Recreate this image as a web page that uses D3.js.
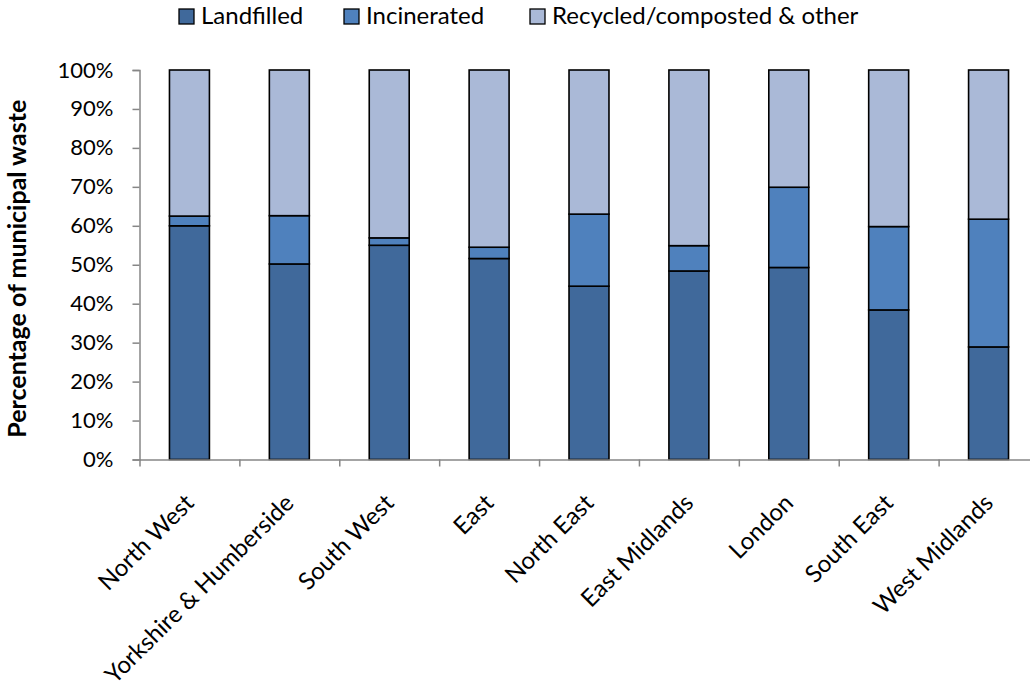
<!DOCTYPE html>
<html>
<head>
<meta charset="utf-8">
<script src="https://cdn.jsdelivr.net/npm/d3@7"></script>
<style>
  html, body { margin: 0; padding: 0; background: #fff; }
  svg { display: block; font-family: Lato, "Open Sans", sans-serif; }
</style>
</head>
<body>
<svg id="chart" width="1030" height="687"></svg>
<script>
const categories = ["North West", "Yorkshire & Humberside", "South West", "East", "North East", "East Midlands", "London", "South East", "West Midlands"];
const seriesNames = ["Landfilled", "Incinerated", "Recycled/composted & other"];
const landfilled = [60.0, 50.2, 55.0, 51.6, 44.5, 48.4, 49.3, 38.4, 28.9];
const incinerated = [2.5, 12.4, 1.9, 2.9, 18.5, 6.5, 20.6, 21.4, 32.8];
const recycled = [37.5, 37.4, 43.1, 45.5, 37.0, 45.1, 30.1, 40.2, 38.3];
const yTicks = [0, 10, 20, 30, 40, 50, 60, 70, 80, 90, 100];
const colors = ["#40699B", "#4F81BD", "#AAB9D7"];

const rows = categories.map((c, i) => ({
  cat: c,
  "Landfilled": landfilled[i],
  "Incinerated": incinerated[i],
  "Recycled/composted & other": recycled[i]
}));

const svg = d3.select("#chart");
const plotLeft = 139.5, plotRight = 1038.5, plotTop = 70, plotBottom = 459.5;

const x = d3.scaleBand().domain(categories).range([plotLeft, plotRight]).paddingInner(0.6).paddingOuter(0.3);
const xb = d3.scaleLinear().domain([0, categories.length]).range([plotLeft, plotRight]);
const y = d3.scaleLinear().domain([0, 100]).range([plotBottom, plotTop]);
const color = d3.scaleOrdinal().domain(seriesNames).range(colors);

const stacked = d3.stack().keys(seriesNames)(rows);

// bars
svg.append("g").selectAll("g").data(stacked).join("g")
  .attr("fill", d => color(d.key))
  .selectAll("rect").data(d => d).join("rect")
  .attr("x", d => x(d.data.cat))
  .attr("width", x.bandwidth())
  .attr("y", d => y(d[1]))
  .attr("height", d => y(d[0]) - y(d[1]))
  .attr("stroke", "#000")
  .attr("stroke-width", 1.6);

// y axis
const yAxis = svg.append("g").attr("transform", `translate(${plotLeft},0)`)
  .call(d3.axisLeft(y).tickValues(yTicks).tickFormat(d => d + "%").tickSize(7).tickPadding(19));
yAxis.select(".domain").attr("stroke", "#868686").attr("stroke-width", 1.5);
yAxis.selectAll(".tick line").attr("stroke", "#868686").attr("stroke-width", 1.5);
yAxis.selectAll(".tick text").attr("font-size", 22).attr("fill", "#000").attr("font-family", "Lato, sans-serif");

// x axis
const xAxis = svg.append("g").attr("transform", `translate(0,${plotBottom})`)
  .call(d3.axisBottom(xb).tickValues(d3.range(0, categories.length + 1)).tickFormat("").tickSize(7).tickSizeOuter(0));
xAxis.select(".domain").attr("stroke", "#868686").attr("stroke-width", 1.5);
xAxis.selectAll(".tick line").attr("stroke", "#868686").attr("stroke-width", 1.5);

// category labels
svg.append("g").selectAll("text").data(categories).join("text")
  .attr("transform", d => `translate(${x(d) + x.bandwidth() / 2 + 6},${plotBottom + 45}) rotate(-45)`)
  .attr("text-anchor", "end")
  .attr("font-size", 24)
  .attr("fill", "#000")
  .text(d => d);

// y title
svg.append("text")
  .attr("transform", `translate(26,${(plotTop + plotBottom) / 2 + 4}) rotate(-90)`)
  .attr("text-anchor", "middle")
  .attr("font-size", 25)
  .attr("font-weight", "bold")
  .attr("fill", "#000")
  .text("Percentage of municipal waste");

// legend
const legendX = [179, 344, 530];
const lg = svg.append("g").selectAll("g").data(seriesNames).join("g")
  .attr("transform", (d, i) => `translate(${legendX[i]},9)`);
lg.append("rect").attr("width", 15).attr("height", 15)
  .attr("fill", d => color(d)).attr("stroke", "#000").attr("stroke-width", 1.3);
lg.append("text").attr("x", 22).attr("y", 15)
  .attr("font-size", 24).attr("fill", "#000").text(d => d);
</script>
</body>
</html>
